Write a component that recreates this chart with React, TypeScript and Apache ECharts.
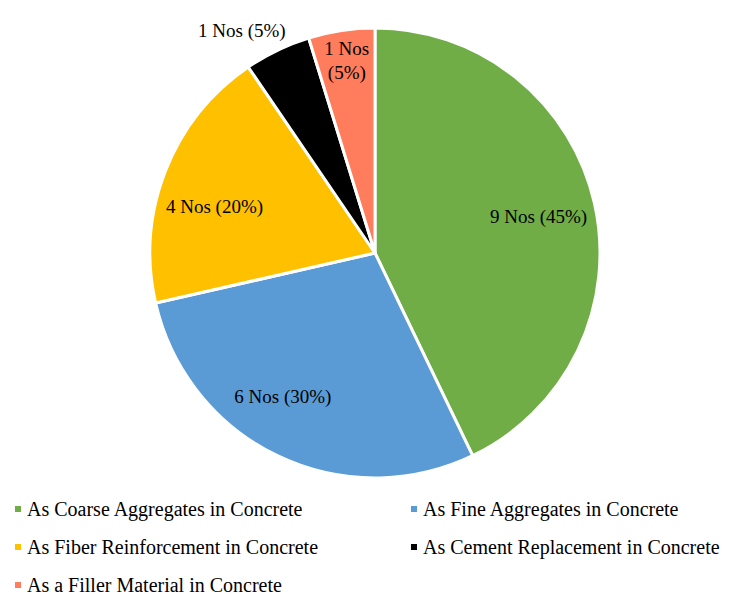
import React, { useEffect, useRef } from "react";
import * as echarts from "echarts";

const categories = [
  "As Coarse Aggregates in Concrete",
  "As Fine Aggregates in Concrete",
  "As Fiber Reinforcement in Concrete",
  "As Cement Replacement in Concrete",
  "As a Filler Material in Concrete",
];
const counts = [9, 6, 4, 1, 1];
const percentLabels = ["45%", "30%", "20%", "5%", "5%"];
const colors = ["#70AD47", "#5B9BD5", "#FFC000", "#000000", "#FF7C5C"];

const labelOffsets: [number, number][] = [
  [51, -11],
  [-42, 39],
  [-53, -4],
  [-83, -118],
  [-11, -78],
];

export default function App() {
  const ref = useRef<HTMLDivElement>(null);
  useEffect(() => {
    document.body.style.margin = "0";
    const chart = echarts.init(ref.current!, undefined, { renderer: "svg" });
    const font = "Liberation Serif";
    const legendText = { fontFamily: font, fontSize: 20, color: "#000", lineHeight: 20 };
    chart.setOption({
      animation: false,
      color: colors,
      legend: [
        {
          orient: "vertical",
          left: 8,
          top: 494,
          icon: "rect",
          itemWidth: 8,
          itemHeight: 8,
          itemGap: 18,
          textStyle: legendText,
          data: [categories[0], categories[2], categories[4]],
        },
        {
          orient: "vertical",
          left: 404,
          top: 494,
          icon: "rect",
          itemWidth: 8,
          itemHeight: 8,
          itemGap: 18,
          textStyle: legendText,
          data: [categories[1], categories[3]],
        },
      ],
      series: [
        {
          type: "pie",
          center: [375, 253],
          radius: [0, 225],
          startAngle: 90,
          clockwise: true,
          itemStyle: { borderColor: "#fff", borderWidth: 3 },
          labelLine: { show: false },
          labelLayout: { hideOverlap: false },
          label: {
            show: true,
            position: "inside",
            fontFamily: font,
            fontSize: 19,
            color: "#000",
            lineHeight: 24,
          },
          data: categories.map((name, i) => ({
            name,
            value: counts[i],
            label: {
              offset: labelOffsets[i],
              formatter:
                i === 4
                  ? `${counts[i]} Nos\n(${percentLabels[i]})`
                  : `${counts[i]} Nos (${percentLabels[i]})`,
            },
          })),
        },
      ],
    });
    return () => chart.dispose();
  }, []);
  return <div ref={ref} style={{ width: 733, height: 608 }} />;
}
